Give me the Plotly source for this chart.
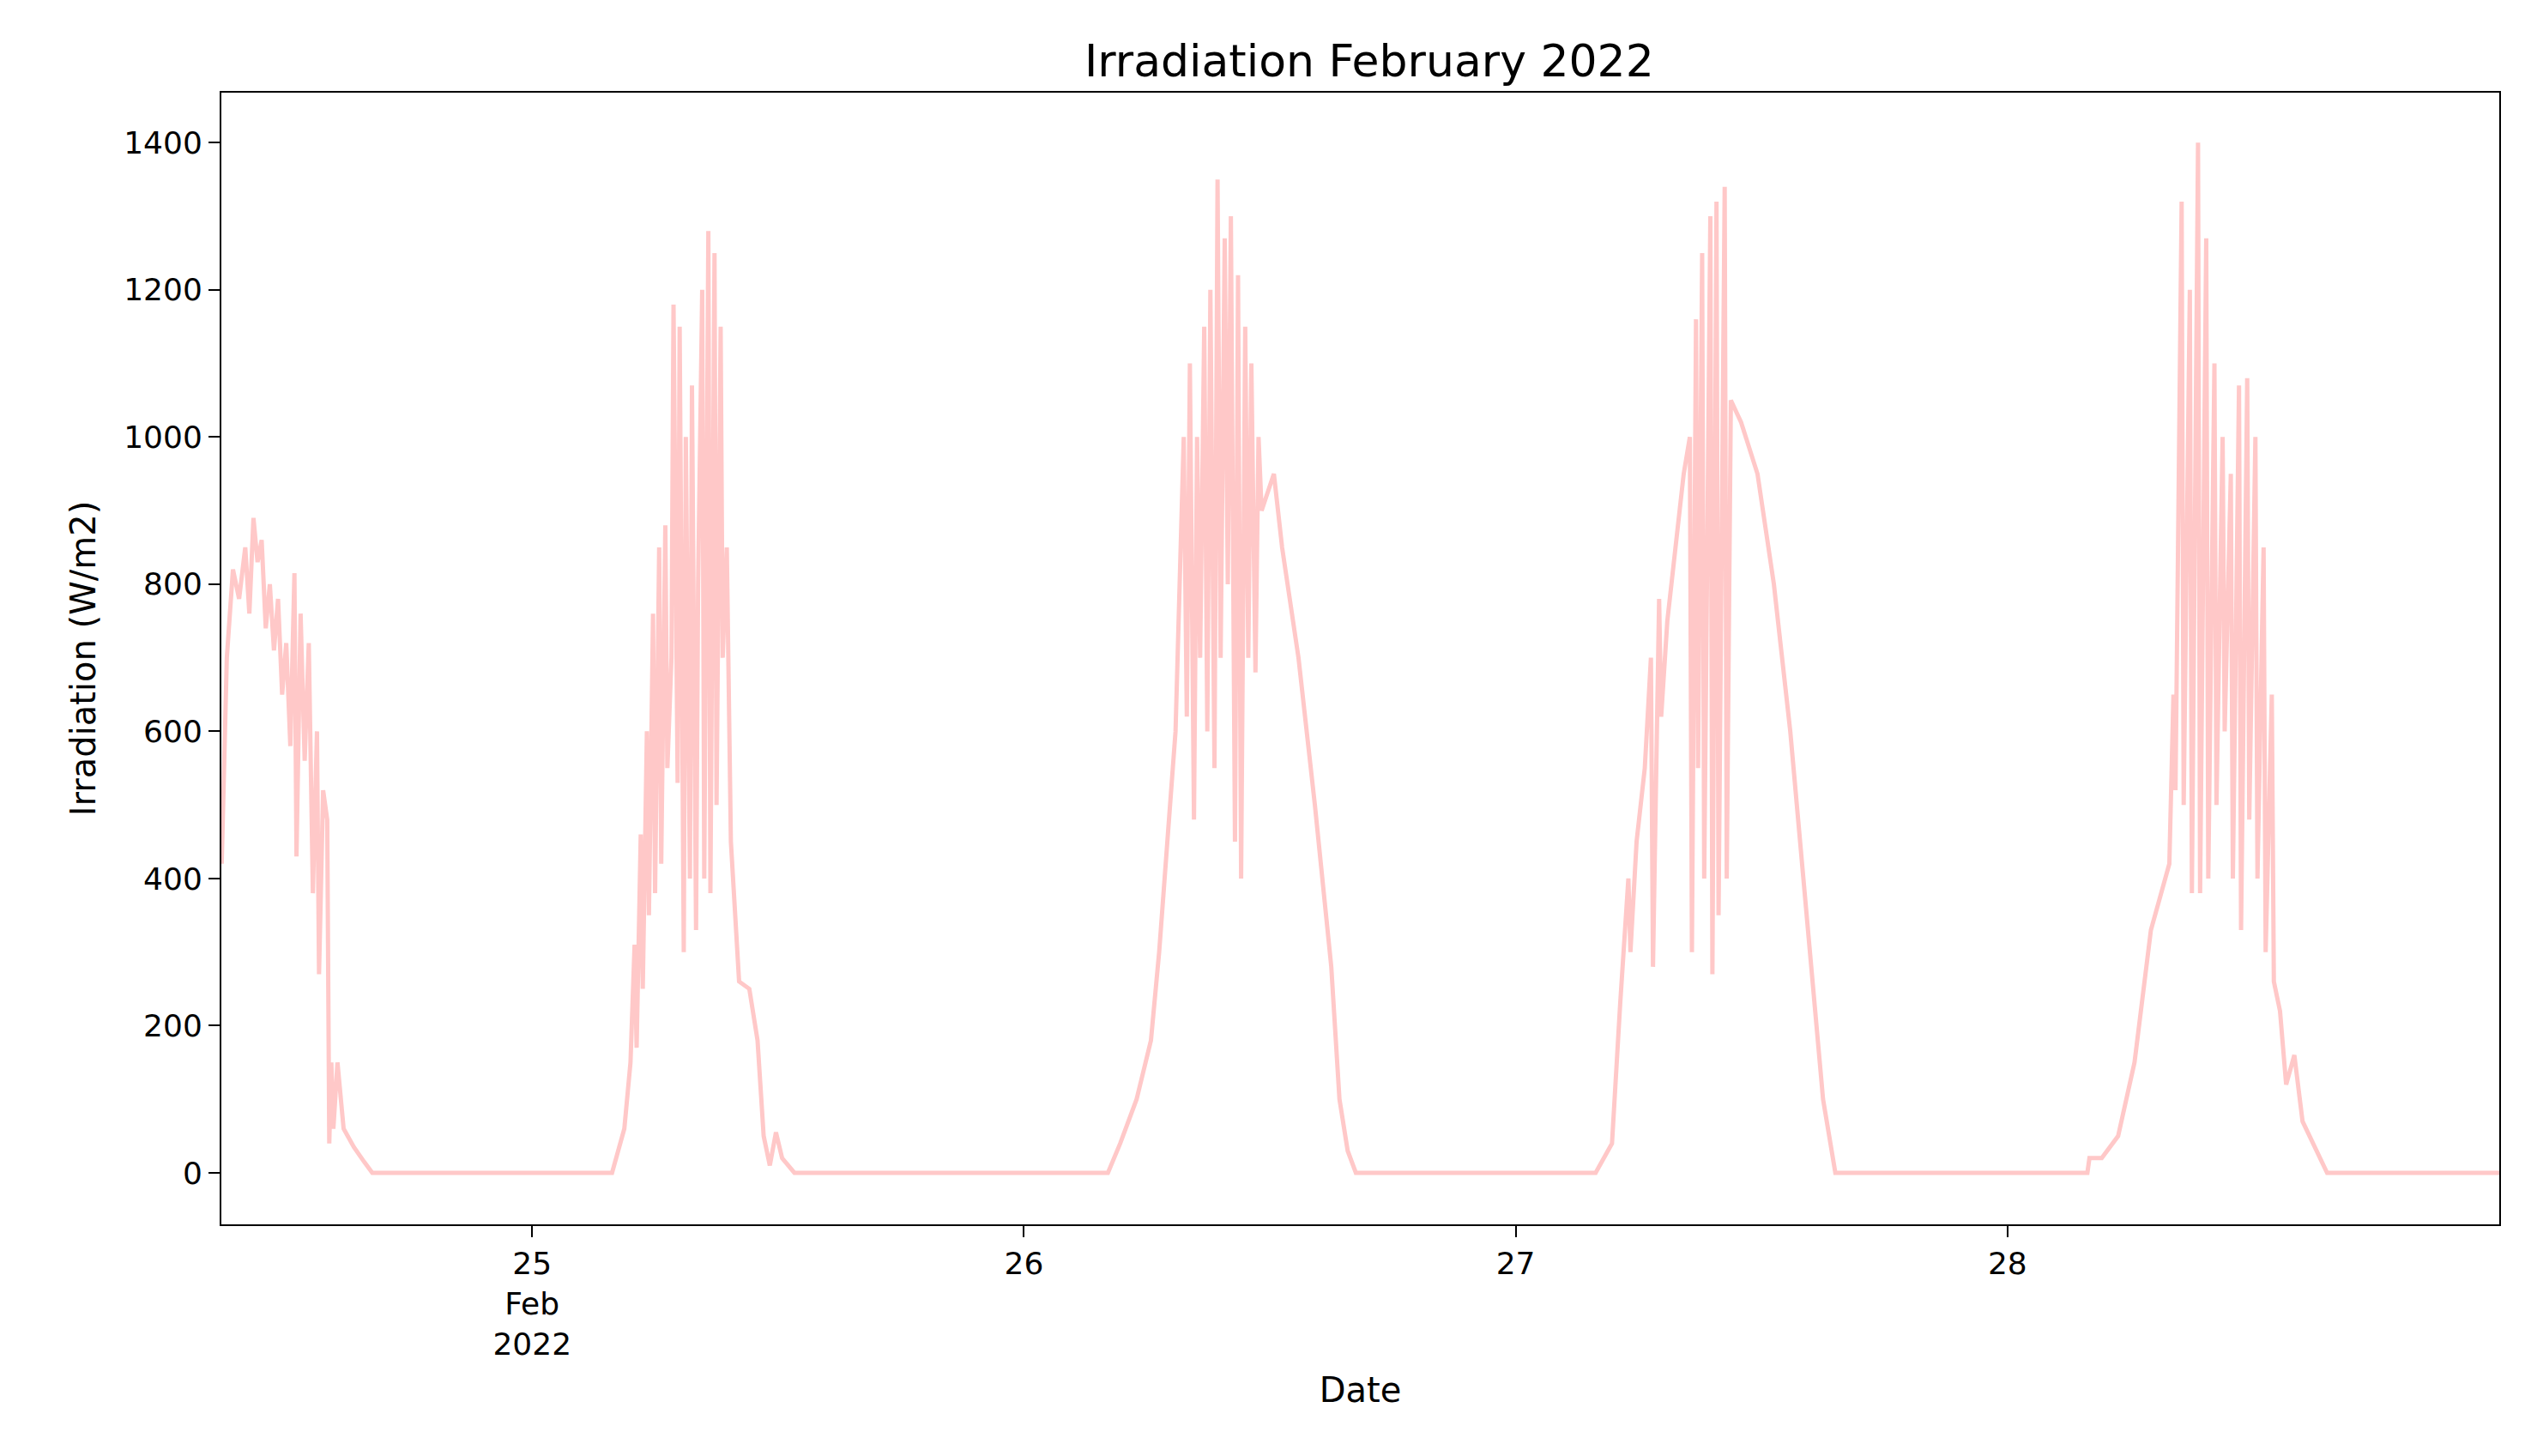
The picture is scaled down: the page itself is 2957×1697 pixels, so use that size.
import pandas as pd
import plotly.graph_objects as go

# hour-of-day / irradiation (W/m2), one pair of lists per day
day24_hours = [8.85, 9.1, 9.4, 9.7, 10.0, 10.2, 10.4, 10.6, 10.8, 11.0, 11.2, 11.4, 11.6, 11.8, 12.0,
               12.2, 12.4, 12.5, 12.7, 12.9, 13.1, 13.3, 13.5, 13.6, 13.8, 14.0, 14.1, 14.2, 14.3, 14.5,
               14.8, 15.3, 15.8, 16.2]
day24_vals = [420, 700, 820, 780, 850, 760, 890, 830, 860, 740, 800, 710, 780, 650, 720,
              580, 815, 430, 760, 560, 720, 380, 600, 270, 520, 480, 40, 150, 60, 150,
              60, 35, 15, 0]

day25_hours = [3.9, 4.5, 4.8, 5.0, 5.1, 5.3, 5.4, 5.6, 5.7, 5.9, 6.0, 6.2, 6.3, 6.5, 6.6,
               6.8, 6.9, 7.1, 7.2, 7.4, 7.5, 7.7, 7.8, 8.0, 8.1, 8.3, 8.4, 8.6, 8.7, 8.9,
               9.0, 9.2, 9.3, 9.5, 9.7, 10.1, 10.6, 11.0, 11.3, 11.6, 11.9, 12.2, 12.8]
day25_vals = [0, 60, 150, 310, 170, 460, 250, 600, 350, 760, 380, 850, 420, 880, 550,
              700, 1180, 530, 1150, 300, 1000, 400, 1070, 330, 800, 1200, 400, 1280, 380, 1250,
              500, 1150, 700, 850, 450, 260, 250, 180, 50, 10, 55, 20, 0]

day26_hours = [4.1, 4.7, 5.5, 6.2, 6.6, 7.0, 7.4,
               7.8, 7.95, 8.1, 8.3, 8.45, 8.6, 8.8, 8.95, 9.1, 9.3, 9.45, 9.6, 9.8, 9.95, 10.1, 10.3,
               10.45, 10.6, 10.8, 10.95, 11.1, 11.3, 11.45, 11.6,
               12.2, 12.6, 13.4, 14.2, 15.0, 15.4, 15.8, 16.2]
day26_vals = [0, 40, 100, 180, 300, 450, 600,
              1000, 620, 1100, 480, 1000, 700, 1150, 600, 1200, 550, 1350, 700, 1270, 800, 1300, 450,
              1220, 400, 1150, 700, 1100, 680, 1000, 900,
              950, 850, 700, 500, 280, 100, 30, 0]

day27_hours = [3.9, 4.7, 5.1, 5.5, 5.6, 5.9, 6.3, 6.6, 6.7, 7.0, 7.1, 7.4, 7.8, 8.2,
               8.5, 8.6, 8.8, 8.9, 9.1, 9.2, 9.5, 9.6, 9.8, 9.9, 10.2, 10.3, 10.5,
               11.0, 11.8, 12.6, 13.4, 14.2, 15.0, 15.6]
day27_vals = [0, 40, 230, 400, 300, 450, 550, 700, 280, 780, 620, 750, 850, 950,
              1000, 300, 1160, 550, 1250, 400, 1300, 270, 1320, 350, 1340, 400, 1050,
              1020, 950, 800, 600, 350, 100, 0]

day28_hours = [3.9, 4.0, 4.6, 5.4, 6.2, 7.0, 7.9, 8.1, 8.2,
               8.5, 8.6, 8.9, 9.0, 9.3, 9.4, 9.7, 9.8, 10.1, 10.2, 10.5, 10.6, 10.9, 11.0, 11.3, 11.4,
               11.7, 11.8, 12.1, 12.2, 12.5, 12.6, 12.9, 13.0,
               13.3, 13.6, 14.0, 14.4, 15.6, 24.0]
day28_vals = [0, 20, 20, 50, 150, 330, 420, 650, 520,
              1320, 500, 1200, 380, 1400, 380, 1270, 400, 1100, 500, 1000, 600, 950, 400, 1070, 330,
              1080, 480, 1000, 400, 850, 300, 650, 260,
              220, 120, 160, 70, 0, 0]

days = {
    "2022-02-24": (day24_hours, day24_vals),
    "2022-02-25": (day25_hours, day25_vals),
    "2022-02-26": (day26_hours, day26_vals),
    "2022-02-27": (day27_hours, day27_vals),
    "2022-02-28": (day28_hours, day28_vals),
}

times, values = [], []
for d, (hrs, vals) in days.items():
    base = pd.Timestamp(d)
    for h, v in zip(hrs, vals):
        times.append(base + pd.Timedelta(hours=h))
        values.append(v)

font = dict(family="DejaVu Sans", size=36, color="black")

fig = go.Figure()
fig.add_trace(go.Scatter(x=times, y=values, mode="lines",
                         line=dict(color="#ffc8c8", width=5), showlegend=False))

fig.update_layout(
    width=2957, height=1697,
    margin=dict(l=250, r=52, t=100, b=278),
    plot_bgcolor="white", paper_bgcolor="white",
    font=font,
    title=dict(text="Irradiation February 2022", x=0.537, xanchor="center",
               y=0.963, yanchor="middle", font=dict(size=52)),
)
fig.update_xaxes(
    range=[pd.Timestamp("2022-02-24 08:50"), pd.Timestamp("2022-03-01 00:00")],
    tickvals=[pd.Timestamp(f"2022-02-{d}") for d in (25, 26, 27, 28)],
    ticktext=["25<br>Feb<br>2022", "26", "27", "28"],
    ticks="outside", ticklen=13, tickwidth=2, tickcolor="black",
    showline=True, linecolor="black", linewidth=2, mirror=True, showgrid=False, zeroline=False,
    title=dict(text="Date", standoff=20, font=dict(size=40)),
)
fig.update_yaxes(
    range=[-70, 1468], tickvals=[0, 200, 400, 600, 800, 1000, 1200, 1400],
    ticks="outside", ticklen=13, tickwidth=2, tickcolor="black",
    showline=True, linecolor="black", linewidth=2, mirror=True, showgrid=False, zeroline=False,
    title=dict(text="Irradiation (W/m2)", standoff=20, font=dict(size=40)),
)

fig.write_html("out.html")
